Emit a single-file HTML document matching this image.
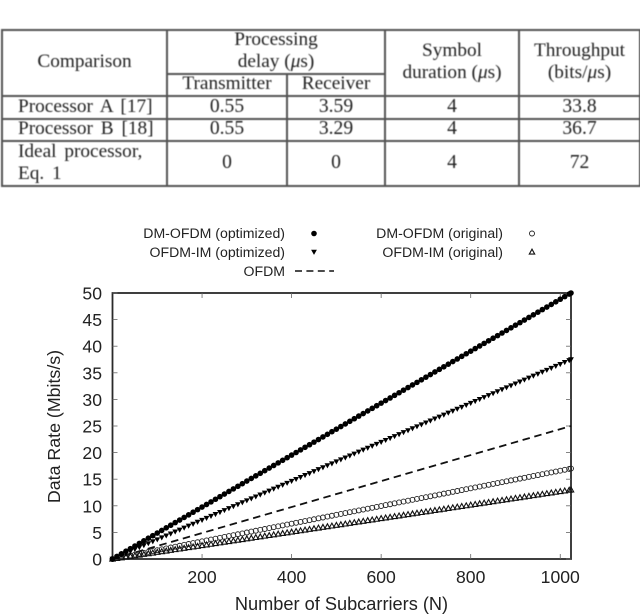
<!DOCTYPE html>
<html>
<head>
<meta charset="utf-8">
<style>
html,body{margin:0;padding:0;background:#fff;}
#page{position:relative;width:640px;height:616px;overflow:hidden;background:#fff;}
#tbl{position:absolute;left:1px;top:29px;width:638px;height:157px;border-collapse:collapse;table-layout:fixed;font-family:"Liberation Serif",serif;font-size:19.3px;color:#222;filter:blur(0.4px);}
#tbl td{border:2px solid #555;padding:0;text-align:center;line-height:22px;vertical-align:middle;overflow:visible;white-space:nowrap;}
#tbl td.l{text-align:left;padding-left:15px;word-spacing:3px;}
#tbl td.n{font-size:19.6px;}
#tbl td span{display:block;margin:-4px 0;position:relative;top:-0.8px;}
#tbl i{font-style:italic;}
#chart{position:absolute;left:0;top:0;filter:blur(0.35px);}
</style>
</head>
<body>
<div id="page">
<table id="tbl">
<colgroup><col style="width:165px"><col style="width:120px"><col style="width:98px"><col style="width:134px"><col style="width:121px"></colgroup>
<tr style="height:44px">
<td rowspan="2"><span>Comparison</span></td>
<td colspan="2"><span>Processing<br>delay (<i>μ</i>s)</span></td>
<td rowspan="2"><span>Symbol<br>duration (<i>μ</i>s)</span></td>
<td rowspan="2"><span>Throughput<br>(bits/<i>μ</i>s)</span></td>
</tr>
<tr style="height:22px">
<td><span>Transmitter</span></td>
<td><span>Receiver</span></td>
</tr>
<tr style="height:23px">
<td class="l"><span>Processor A [17]</span></td>
<td class="n"><span>0.55</span></td>
<td class="n"><span>3.59</span></td>
<td class="n"><span>4</span></td>
<td class="n"><span>33.8</span></td>
</tr>
<tr style="height:22px">
<td class="l"><span>Processor B [18]</span></td>
<td class="n"><span>0.55</span></td>
<td class="n"><span>3.29</span></td>
<td class="n"><span>4</span></td>
<td class="n"><span>36.7</span></td>
</tr>
<tr style="height:45px">
<td class="l"><span>Ideal processor,<br>Eq. 1</span></td>
<td class="n"><span>0</span></td>
<td class="n"><span>0</span></td>
<td class="n"><span>4</span></td>
<td class="n"><span>72</span></td>
</tr>
</table>

<svg id="chart" width="640" height="616" viewBox="0 0 640 616" xmlns="http://www.w3.org/2000/svg"></svg>
</div>

<script>
const subcarriers = [0,10,20,30,40,50,60,70,80,90,100,110,120,130,140,150,160,170,180,190,200,210,220,230,240,250,260,270,280,290,300,310,320,330,340,350,360,370,380,390,400,410,420,430,440,450,460,470,480,490,500,510,520,530,540,550,560,570,580,590,600,610,620,630,640,650,660,670,680,690,700,710,720,730,740,750,760,770,780,790,800,810,820,830,840,850,860,870,880,890,900,910,920,930,940,950,960,970,980,990,1000,1010,1020,1024];
const dmOptimized = [0,0.49,0.98,1.46,1.95,2.44,2.93,3.42,3.91,4.39,4.88,5.37,5.86,6.35,6.84,7.32,7.81,8.30,8.79,9.28,9.77,10.25,10.74,11.23,11.72,12.21,12.70,13.18,13.67,14.16,14.65,15.14,15.63,16.11,16.60,17.09,17.58,18.07,18.55,19.04,19.53,20.02,20.51,21.00,21.48,21.97,22.46,22.95,23.44,23.93,24.41,24.90,25.39,25.88,26.37,26.86,27.34,27.83,28.32,28.81,29.30,29.79,30.27,30.76,31.25,31.74,32.23,32.72,33.20,33.69,34.18,34.67,35.16,35.65,36.13,36.62,37.11,37.60,38.09,38.58,39.06,39.55,40.04,40.53,41.02,41.50,41.99,42.48,42.97,43.46,43.95,44.43,44.92,45.41,45.90,46.39,46.88,47.36,47.85,48.34,48.83,49.32,49.80,50];
const imOptimized = [0,0.37,0.73,1.10,1.46,1.83,2.20,2.56,2.93,3.30,3.66,4.03,4.39,4.76,5.13,5.49,5.86,6.23,6.59,6.96,7.32,7.69,8.06,8.42,8.79,9.16,9.52,9.89,10.25,10.62,10.99,11.35,11.72,12.08,12.45,12.82,13.18,13.55,13.92,14.28,14.65,15.01,15.38,15.75,16.11,16.48,16.85,17.21,17.58,17.94,18.31,18.68,19.04,19.41,19.78,20.14,20.51,20.87,21.24,21.61,21.97,22.34,22.71,23.07,23.44,23.80,24.17,24.54,24.90,25.27,25.63,26.00,26.37,26.73,27.10,27.47,27.83,28.20,28.56,28.93,29.30,29.66,30.03,30.40,30.76,31.13,31.49,31.86,32.23,32.59,32.96,33.33,33.69,34.06,34.42,34.79,35.16,35.52,35.89,36.26,36.62,36.99,37.35,37.5];
const dmOriginal = [0,0.17,0.33,0.50,0.66,0.83,1.00,1.16,1.33,1.49,1.66,1.83,1.99,2.16,2.32,2.49,2.66,2.82,2.99,3.15,3.32,3.49,3.65,3.82,3.98,4.15,4.32,4.48,4.65,4.81,4.98,5.15,5.31,5.48,5.64,5.81,5.98,6.14,6.31,6.47,6.64,6.81,6.97,7.14,7.30,7.47,7.64,7.80,7.97,8.13,8.30,8.47,8.63,8.80,8.96,9.13,9.30,9.46,9.63,9.79,9.96,10.13,10.29,10.46,10.63,10.79,10.96,11.12,11.29,11.46,11.62,11.79,11.95,12.12,12.29,12.45,12.62,12.78,12.95,13.12,13.28,13.45,13.61,13.78,13.95,14.11,14.28,14.44,14.61,14.78,14.94,15.11,15.27,15.44,15.61,15.77,15.94,16.10,16.27,16.44,16.60,16.77,16.93,17];
const imOriginal = [0,0.13,0.25,0.38,0.51,0.63,0.76,0.89,1.02,1.14,1.27,1.40,1.52,1.65,1.78,1.90,2.03,2.16,2.29,2.41,2.54,2.67,2.79,2.92,3.05,3.17,3.30,3.43,3.55,3.68,3.81,3.94,4.06,4.19,4.32,4.44,4.57,4.70,4.82,4.95,5.08,5.20,5.33,5.46,5.59,5.71,5.84,5.97,6.09,6.22,6.35,6.47,6.60,6.73,6.86,6.98,7.11,7.24,7.36,7.49,7.62,7.74,7.87,8.00,8.12,8.25,8.38,8.51,8.63,8.76,8.89,9.01,9.14,9.27,9.39,9.52,9.65,9.78,9.90,10.03,10.16,10.28,10.41,10.54,10.66,10.79,10.92,11.04,11.17,11.30,11.43,11.55,11.68,11.81,11.93,12.06,12.19,12.31,12.44,12.57,12.70,12.82,12.95,13];
const ofdmSubcarriers = [0,1024];
const ofdmRate = [0,25];
const xTickLabels = [200,400,600,800,1000];
const yTickLabels = [0,5,10,15,20,25,30,35,40,45,50];
const xDomainMax = 1024;
const yDomainMax = 50;

const SVG_NS = 'http://www.w3.org/2000/svg';
const svg = document.getElementById('chart');
const plotLeft = 112.5, plotRight = 571, plotTop = 293, plotBottom = 559;
const INK = '#222';
function xScale(v){ return plotLeft + (v / xDomainMax) * (plotRight - plotLeft); }
function yScale(v){ return plotBottom - (v / yDomainMax) * (plotBottom - plotTop); }
function make(tag, attrs, parent){
  const el = document.createElementNS(SVG_NS, tag);
  for (const k in attrs) el.setAttribute(k, attrs[k]);
  (parent || svg).appendChild(el);
  return el;
}
function label(str, x, y, size, anchor, parent){
  const t = make('text', {x:x, y:y, 'font-size':size, 'text-anchor':anchor, fill:INK, 'font-family':'"Liberation Sans", sans-serif'}, parent);
  t.textContent = str;
  return t;
}
function drawMarker(kind, cx, cy, parent){
  let m;
  if (kind === 'filled-circle') m = make('circle', {cx:cx, cy:cy, r:2.8, fill:'#000'}, parent);
  if (kind === 'open-circle') m = make('circle', {cx:cx, cy:cy, r:2.5, fill:'none', stroke:'#222', 'stroke-width':0.9}, parent);
  if (kind === 'filled-triangle') m = make('polygon', {points:(cx-2.9)+','+(cy-2.2)+' '+(cx+2.9)+','+(cy-2.2)+' '+cx+','+(cy+2.9), fill:'#000'}, parent);
  if (kind === 'open-triangle') m = make('polygon', {points:(cx-2.7)+','+(cy+2.1)+' '+(cx+2.7)+','+(cy+2.1)+' '+cx+','+(cy-2.8), fill:'none', stroke:'#111', 'stroke-width':1.1}, parent);
  return m;
}

// axis frame
const frame = make('rect', {x:plotLeft, y:plotTop, width:plotRight-plotLeft, height:plotBottom-plotTop, fill:'none', stroke:'#2a2a2a', 'stroke-width':1.8});



// ticks
const xAxisGroup = make('g', {});


xTickLabels.forEach(function(v){
  const x = xScale(v);
  make('line', {x1:x, x2:x, y1:plotBottom, y2:plotBottom-5, stroke:'#666', 'stroke-width':0.8}, xAxisGroup);
  make('line', {x1:x, x2:x, y1:plotTop, y2:plotTop+5, stroke:'#666', 'stroke-width':0.8}, xAxisGroup);
  const t = label(String(v), x, 583, 17.6, 'middle', xAxisGroup);
  
  
});
const yAxisGroup = make('g', {});


yTickLabels.forEach(function(v){
  const y = yScale(v);
  make('line', {x1:plotLeft, x2:plotLeft+5, y1:y, y2:y, stroke:'#666', 'stroke-width':0.8}, yAxisGroup);
  make('line', {x1:plotRight, x2:plotRight-5, y1:y, y2:y, stroke:'#666', 'stroke-width':0.8}, yAxisGroup);
  const t = label(String(v), 102, y + 6.5, 17.6, 'end', yAxisGroup);
  
  
});

// axis titles
const xTitle = label('Number of Subcarriers (N)', 341.5, 610, 18.2, 'middle');


const yTitle = label('Data Rate (Mbits/s)', 0, 0, 17.8, 'middle');
yTitle.setAttribute('transform', 'translate(60,426.5) rotate(-90)');



// OFDM dashed line
const ofdmLine = make('line', {
  x1:xScale(ofdmSubcarriers[0]), y1:yScale(ofdmRate[0]),
  x2:xScale(ofdmSubcarriers[1]), y2:yScale(ofdmRate[1]),
  stroke:'#111', 'stroke-width':1.8, 'stroke-dasharray':'7.5 4.7'
});



// marker series
function drawSeries(values, kind, name){
  const g = make('g', {});
  
  
  values.forEach(function(v, i){
    drawMarker(kind, xScale(subcarriers[i]), yScale(v), g);
  });
}
drawSeries(dmOriginal, 'open-circle', 'series-dm-ofdm-original');
drawSeries(imOriginal, 'open-triangle', 'series-ofdm-im-original');
drawSeries(imOptimized, 'filled-triangle', 'series-ofdm-im-optimized');
drawSeries(dmOptimized, 'filled-circle', 'series-dm-ofdm-optimized');

// legend
const legend = make('g', {});


const l1 = label('DM-OFDM (optimized)', 285, 238, 14.1, 'end', legend);


const l2 = label('OFDM-IM (optimized)', 285, 257, 14.1, 'end', legend);


const l3 = label('OFDM', 285, 276, 14.1, 'end', legend);


const l4 = label('DM-OFDM (original)', 503, 238, 14.1, 'end', legend);


const l5 = label('OFDM-IM (original)', 503, 257, 14.1, 'end', legend);


drawMarker('filled-circle', 314, 233.5, legend);
drawMarker('filled-triangle', 314, 252, legend);
drawMarker('open-circle', 532, 233.5, legend);
drawMarker('open-triangle', 532, 252, legend);
make('line', {x1:295, x2:334, y1:271, y2:271, stroke:'#111', 'stroke-width':1.6, 'stroke-dasharray':'7 4.4'}, legend);
</script>
</body>
</html>
